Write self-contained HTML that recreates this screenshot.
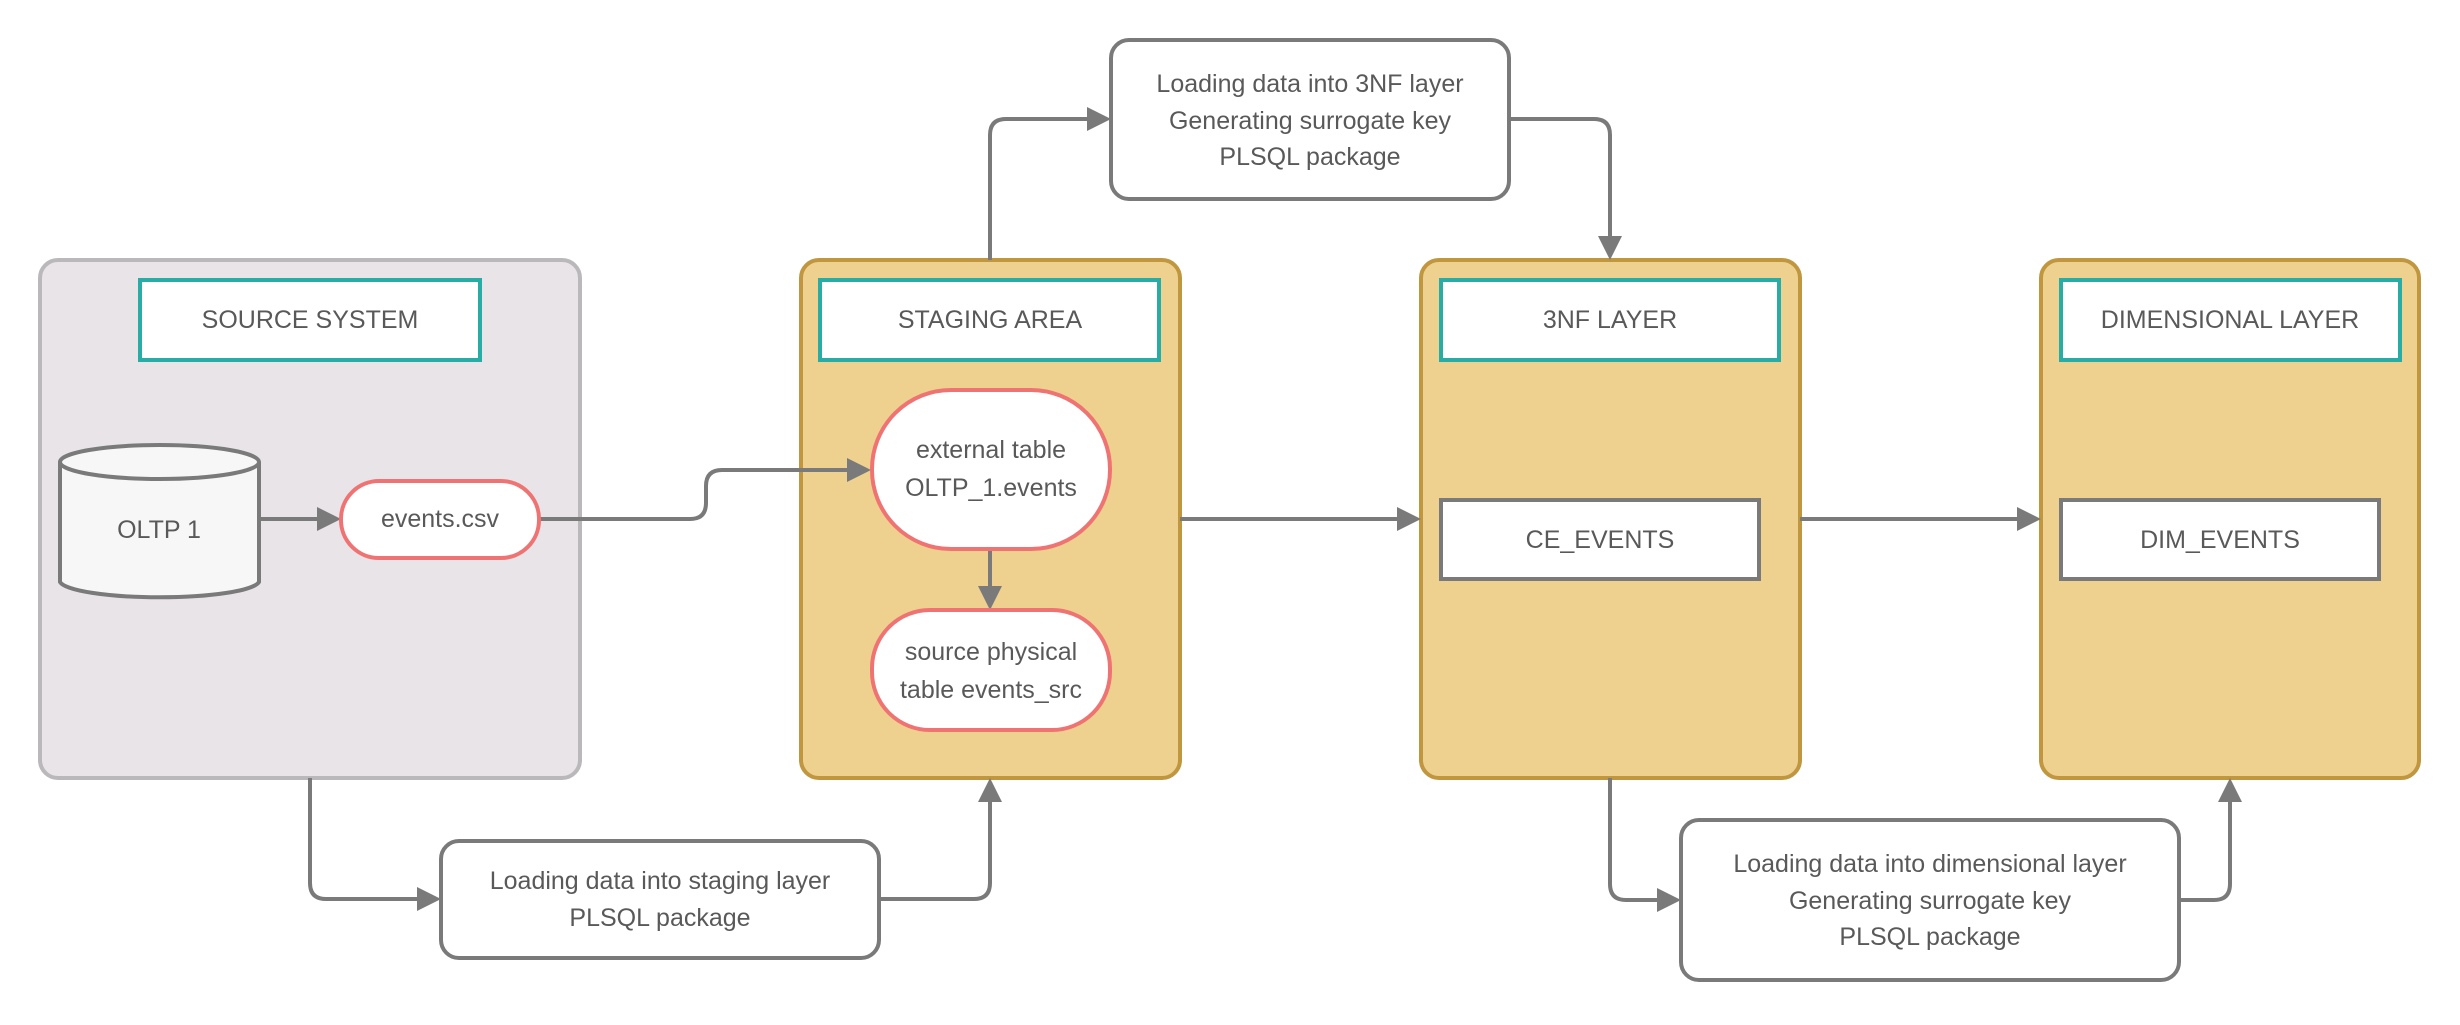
<!DOCTYPE html>
<html><head><meta charset="utf-8"><style>
html,body{margin:0;padding:0;background:#fff;}
svg text{font-family:"Liberation Sans",sans-serif;fill:#595959;font-size:25px;text-anchor:middle;dominant-baseline:central;}
</style></head><body>
<svg width="2460" height="1020" viewBox="0 0 2460 1020" xmlns="http://www.w3.org/2000/svg">
<defs>
<marker id="a" markerWidth="6" markerHeight="6" refX="5" refY="3" orient="auto" markerUnits="strokeWidth"><path d="M0,0 L6,3 L0,6 z" fill="#7a7a7a"/></marker>
</defs>
<rect x="40" y="260" width="540" height="518" rx="18" fill="#e8e4e8" stroke="#bab8ba" stroke-width="4"/>
<rect x="801" y="260" width="379" height="518" rx="18" fill="#efd18f" stroke="#c0963f" stroke-width="4"/>
<rect x="1421" y="260" width="379" height="518" rx="18" fill="#efd18f" stroke="#c0963f" stroke-width="4"/>
<rect x="2041" y="260" width="378" height="518" rx="18" fill="#efd18f" stroke="#c0963f" stroke-width="4"/>
<rect x="140" y="280" width="340" height="80" fill="#fff" stroke="#27aca6" stroke-width="4"/>
<text x="310" y="320">SOURCE SYSTEM</text>
<rect x="820" y="280" width="339" height="80" fill="#fff" stroke="#27aca6" stroke-width="4"/>
<text x="990" y="320">STAGING AREA</text>
<rect x="1441" y="280" width="338" height="80" fill="#fff" stroke="#27aca6" stroke-width="4"/>
<text x="1610" y="320">3NF LAYER</text>
<rect x="2061" y="280" width="339" height="80" fill="#fff" stroke="#27aca6" stroke-width="4"/>
<text x="2230" y="320">DIMENSIONAL LAYER</text>
<g fill="none" stroke="#7a7a7a" stroke-width="4">
<path d="M259,519 L337,519" marker-end="url(#a)"/>
<path d="M540,519 L690,519 Q706,519 706,503 L706,486 Q706,470 722,470 L867,470" marker-end="url(#a)"/>
<path d="M990,549 L990,606" marker-end="url(#a)"/>
<path d="M1180,519 L1417,519" marker-end="url(#a)"/>
<path d="M1800,519 L2037,519" marker-end="url(#a)"/>
<path d="M990,260 L990,135 Q990,119 1006,119 L1107,119" marker-end="url(#a)"/>
<path d="M1509,119 L1594,119 Q1610,119 1610,135 L1610,256" marker-end="url(#a)"/>
<path d="M310,778 L310,883 Q310,899 326,899 L437,899" marker-end="url(#a)"/>
<path d="M879,899 L974,899 Q990,899 990,883 L990,782" marker-end="url(#a)"/>
<path d="M1610,778 L1610,884 Q1610,900 1626,900 L1677,900" marker-end="url(#a)"/>
<path d="M2179,900 L2214,900 Q2230,900 2230,884 L2230,782" marker-end="url(#a)"/>
</g>
<path d="M60,462 L60,582 A100,17 0 0 0 259,582 L259,462" fill="#f7f7f7" stroke="#7a7a7a" stroke-width="4"/>
<ellipse cx="159.5" cy="462" rx="99.5" ry="17" fill="#f7f7f7" stroke="#7a7a7a" stroke-width="4"/>
<text x="159" y="530">OLTP 1</text>
<rect x="341" y="481" width="198" height="77" rx="38" fill="#fff" stroke="#f07373" stroke-width="4"/>
<text x="440" y="519">events.csv</text>
<rect x="872" y="390" width="238" height="159" rx="79" fill="#fff" stroke="#f07373" stroke-width="4"/>
<text x="991" y="450">external table</text>
<text x="991" y="488">OLTP_1.events</text>
<rect x="872" y="610" width="238" height="120" rx="58" fill="#fff" stroke="#f07373" stroke-width="4"/>
<text x="991" y="652">source physical</text>
<text x="991" y="690">table events_src</text>
<rect x="1441" y="500" width="318" height="79" fill="#fff" stroke="#7a7a7a" stroke-width="4"/>
<text x="1600" y="540">CE_EVENTS</text>
<rect x="2061" y="500" width="318" height="79" fill="#fff" stroke="#7a7a7a" stroke-width="4"/>
<text x="2220" y="540">DIM_EVENTS</text>
<rect x="1111" y="40" width="398" height="159" rx="18" fill="#fff" stroke="#7a7a7a" stroke-width="4"/>
<text x="1310" y="84">Loading data into 3NF layer</text>
<text x="1310" y="121">Generating surrogate key</text>
<text x="1310" y="157">PLSQL package</text>
<rect x="441" y="841" width="438" height="117" rx="18" fill="#fff" stroke="#7a7a7a" stroke-width="4"/>
<text x="660" y="881">Loading data into staging layer</text>
<text x="660" y="918">PLSQL package</text>
<rect x="1681" y="820" width="498" height="160" rx="18" fill="#fff" stroke="#7a7a7a" stroke-width="4"/>
<text x="1930" y="864">Loading data into dimensional layer</text>
<text x="1930" y="901">Generating surrogate key</text>
<text x="1930" y="937">PLSQL package</text>
</svg>
</body></html>
